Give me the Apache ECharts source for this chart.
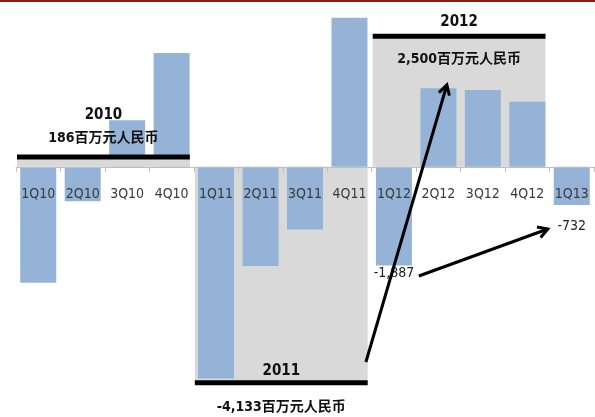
<!DOCTYPE html>
<html>
<head>
<meta charset="utf-8">
<script src="https://cdn.jsdelivr.net/npm/echarts@6/dist/echarts.min.js"></script>
<style>
  html, body { margin: 0; padding: 0; background: #fff; }
  #chart { width: 595px; height: 417px; }
</style>
</head>
<body>
<div id="chart"></div>
<script>
// Quarterly net result (百万元人民币)
const quarters = ['1Q10', '2Q10', '3Q10', '4Q10', '1Q11', '2Q11', '3Q11', '4Q11', '1Q12', '2Q12', '3Q12', '4Q12', '1Q13'];
const quarterValues = [-2220, -660, 890, 2176, -4050, -1900, -1200, 2850, -1887, 1502, 1469, 1246, -732];
const labelledQuarters = ['1Q12', '1Q13'];

// Annual totals, each spanning four quarters
const years = ['2010', '2011', '2012'];
const yearFirstQuarter = [0, 4, 8];
const yearTotals = [186, -4133, 2500];
const yearTotalLabels = ['186百万元人民币', '-4,133百万元人民币', '2,500百万元人民币'];

const NARROW = '"Liberation Sans Narrow", "Arial Narrow", "DejaVu Sans Condensed", "Noto Sans CJK SC", sans-serif';
const BAR_BLUE = '#95B3D7';
const BAND_GREY = '#D9D9D9';

// label placement around each year's total line (px, relative to the line)
const yearTextLayout = {
  '2010': { year: -42, total: -19 },
  '2011': { year: -12, total: 25 },
  '2012': { year: -14, total: 23 }
};
// the 2010 band sits over its quarter bars
const raisedBands = ['2010'];
// gap between a labelled bar's end and its value label
const labelGap = { '1Q12': 1, '1Q13': 14 };

const chart = echarts.init(document.getElementById('chart'));

function bandBox(api) {
  const first = api.value(0);
  const total = api.value(1);
  const bw = api.size([1, 0])[0];
  const left = api.coord([first, 0])[0] - bw / 2 + 1;
  const right = api.coord([first + 3, 0])[0] + bw / 2 - 4;
  const zeroY = api.coord([first, 0])[1];
  const edgeY = api.coord([first, total])[1];
  return { left, right, zeroY, edgeY };
}

function bandRect(b) {
  return {
    type: 'rect',
    shape: { x: b.left, y: Math.min(b.zeroY, b.edgeY), width: b.right - b.left, height: Math.abs(b.edgeY - b.zeroY) },
    style: { fill: BAND_GREY }
  };
}

function textEl(str, x, y, size, weight, color) {
  return {
    type: 'text',
    style: {
      text: str, x: x, y: y,
      fill: color || '#111',
      font: weight + ' ' + size + 'px ' + NARROW,
      align: 'center', verticalAlign: 'middle',
      textAlign: 'center', textVerticalAlign: 'middle'
    }
  };
}

const bandData = years.map((y, i) => [yearFirstQuarter[i], yearTotals[i]]);
const tickData = quarters.map((q, i) => [i, 0]);

const barData = quarterValues.map((v, i) => {
  const q = quarters[i];
  if (!labelledQuarters.includes(q)) return v;
  return {
    value: v,
    label: {
      show: true,
      position: v < 0 ? 'bottom' : 'top',
      distance: labelGap[q],
      formatter: (p) => p.value.toLocaleString('en-US'),
      color: '#222',
      fontSize: 14,
      fontFamily: NARROW
    }
  };
});

chart.setOption({
  animation: false,
  backgroundColor: '#fff',
  grid: { left: 16, right: 1, top: 10, height: 392, outerBoundsMode: 'none', containLabel: false },
  xAxis: {
    type: 'category',
    data: quarters,
    z: 10,
    axisLine: { onZero: true, lineStyle: { color: '#BFBFBF', width: 1 } },
    axisTick: { show: true, length: 5, lineStyle: { color: '#BFBFBF' } },
    axisLabel: { show: false }
  },
  yAxis: {
    type: 'value',
    min: -4500,
    max: 3000,
    show: false,
    splitLine: { show: false }
  },
  series: [
    {
      name: 'bandsBack',
      type: 'custom',
      z: 1,
      data: bandData,
      renderItem: (params, api) => {
        if (raisedBands.includes(years[params.dataIndex])) return null;
        return bandRect(bandBox(api));
      }
    },
    {
      name: 'quarters',
      type: 'bar',
      z: 2,
      barWidth: 36,
      itemStyle: { color: BAR_BLUE },
      data: barData
    },
    {
      name: 'bandsFront',
      type: 'custom',
      z: 3,
      data: bandData,
      renderItem: (params, api) => {
        const i = params.dataIndex;
        const b = bandBox(api);
        const cx = (b.left + b.right) / 2;
        const lay = yearTextLayout[years[i]];
        const children = [];
        if (raisedBands.includes(years[i])) children.push(bandRect(b));
        children.push({
          type: 'rect',
          shape: { x: b.left, y: b.edgeY - 2.5, width: b.right - b.left, height: 5 },
          style: { fill: '#000' }
        });
        children.push(textEl(years[i], cx, b.edgeY + lay.year, 15, 'bold'));
        children.push(textEl(yearTotalLabels[i], cx, b.edgeY + lay.total, 14, 'bold'));
        return { type: 'group', children: children };
      }
    },
    {
      // quarter names sit just under the zero line, over the bars
      name: 'quarterNames',
      type: 'custom',
      z: 4,
      data: tickData,
      renderItem: (params, api) => {
        const p = api.coord([api.value(0), 0]);
        return textEl(quarters[params.dataIndex], p[0], p[1] + 28, 14, 'normal', '#3a3a3a');
      }
    }
  ]
});

// Arrows: anchors given as [category index, fraction of a band, value]
const arrowSpecs = [
  { from: [7, 0.37, -3734], to: [9, 0.19, 1565] },
  { from: [8, 0.56, -2089], to: [11, 0.46, -1190] }
];

function anchorToPixel(a) {
  const p = chart.convertToPixel({ xAxisIndex: 0, yAxisIndex: 0 }, [a[0], a[2]]);
  const q = chart.convertToPixel({ xAxisIndex: 0, yAxisIndex: 0 }, [a[0] + 1, a[2]]);
  return [p[0] + (q[0] - p[0]) * a[1], p[1]];
}

function arrowElements(a, b) {
  const ang = Math.atan2(b[1] - a[1], b[0] - a[0]);
  const len = 11, spread = Math.PI / 6;
  const h1 = [b[0] - len * Math.cos(ang - spread), b[1] - len * Math.sin(ang - spread)];
  const h2 = [b[0] - len * Math.cos(ang + spread), b[1] - len * Math.sin(ang + spread)];
  return [
    { type: 'line', z: 20, shape: { x1: a[0], y1: a[1], x2: b[0], y2: b[1] }, style: { stroke: '#000', lineWidth: 3 } },
    { type: 'polyline', z: 20, shape: { points: [h1, b, h2] }, style: { stroke: '#000', lineWidth: 3, fill: null, lineJoin: 'miter' } }
  ];
}

const graphics = [
  { type: 'rect', z: 30, shape: { x: 0, y: 0, width: 595, height: 2 }, style: { fill: '#8B1A12' } }
];
arrowSpecs.forEach((s) => {
  graphics.push(...arrowElements(anchorToPixel(s.from), anchorToPixel(s.to)));
});
chart.setOption({ graphic: graphics });
</script>
</body>
</html>
